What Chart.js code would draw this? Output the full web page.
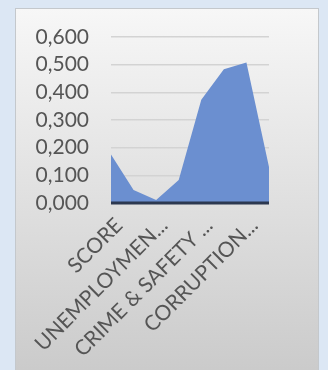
<!DOCTYPE html>
<html>
<head>
<meta charset="utf-8">
<script src="https://cdn.jsdelivr.net/npm/chart.js@4/dist/chart.umd.min.js"></script>
<style>
  html, body { margin: 0; padding: 0; background: #dce7f4; }
  #wrap { width: 328px; height: 370px; }
</style>
</head>
<body>
<div id="wrap"><canvas id="myChart"></canvas></div>
<script>
// Categories along the x axis (only every other one gets a label)
const categories = ['SCORE', '', 'UNEMPLOYMEN...', '', 'CRIME & SAFETY ...', '', 'CORRUPTION...', ''];
// Series values
const scores = [0.175, 0.047, 0.011, 0.083, 0.373, 0.483, 0.508, 0.130];
// Y axis ticks
const yTicks = [0, 0.1, 0.2, 0.3, 0.4, 0.5, 0.6];

// Light blue backdrop with the grey gradient panel on top
const panelBackground = {
    id: 'panelBackground',
    beforeDraw(chart) {
        const ctx = chart.ctx;
        ctx.save();
        ctx.fillStyle = '#dce7f4';
        ctx.fillRect(0, 0, chart.width, chart.height);
        const grad = ctx.createLinearGradient(0, 8, 0, chart.height);
        grad.addColorStop(0, '#f7f7f7');
        grad.addColorStop(1, '#cbcbcb');
        ctx.fillStyle = grad;
        ctx.fillRect(15, 8, 304, chart.height - 8);
        ctx.strokeStyle = '#c4c8cc';
        ctx.lineWidth = 1;
        ctx.strokeRect(15.5, 8.5, 303, chart.height);
        ctx.restore();
    }
};

// Dark zero line drawn over the area
const zeroLine = {
    id: 'zeroLine',
    afterDatasetsDraw(chart) {
        const { ctx, chartArea, scales } = chart;
        const y = scales.y.getPixelForValue(0);
        ctx.save();
        ctx.strokeStyle = '#2c3850';
        ctx.lineWidth = 3;
        ctx.beginPath();
        ctx.moveTo(chartArea.left, y);
        ctx.lineTo(chartArea.right, y);
        ctx.stroke();
        ctx.restore();
    }
};

const ctx = document.getElementById('myChart').getContext('2d');
const myChart = new Chart(ctx, {
    type: 'line',
    data: {
        labels: categories,
        datasets: [{
            data: scores,
            fill: 'origin',
            backgroundColor: '#6b8fd0',
            borderWidth: 0,
            pointRadius: 0,
            tension: 0
        }]
    },
    options: {
        responsive: true,
        maintainAspectRatio: false,
        animation: false,
        layout: { padding: { top: 37, right: 59, left: 0, bottom: 0 } },
        plugins: { legend: { display: false }, tooltip: { enabled: false } },
        scales: {
            x: {
                offset: false,
                grid: { display: false },
                border: { display: false },
                ticks: {
                    autoSkip: false,
                    maxRotation: 45,
                    minRotation: 45,
                    color: '#555555',
                    font: { family: 'Lato', size: 21 },
                    padding: 2,
                    labelOffset: 8,
                    callback: function(value, index) {
                        return index % 2 === 0 ? this.getLabelForValue(value) : '';
                    }
                },
                afterFit: scale => { scale.height = 167; }
            },
            y: {
                min: 0,
                max: 0.6,
                afterBuildTicks: scale => { scale.ticks = yTicks.map(v => ({ value: v })); },
                grid: { color: '#d3d3d3', lineWidth: 1.5, drawTicks: false },
                border: { display: false },
                ticks: {
                    autoSkip: false,
                    color: '#555555',
                    font: { family: 'Lato', size: 21 },
                    padding: 22,
                    callback: v => v.toFixed(3).replace('.', ',')
                },
                afterFit: scale => { scale.width = 111; }
            }
        }
    },
    plugins: [panelBackground, zeroLine]
});
</script>
</body>
</html>
